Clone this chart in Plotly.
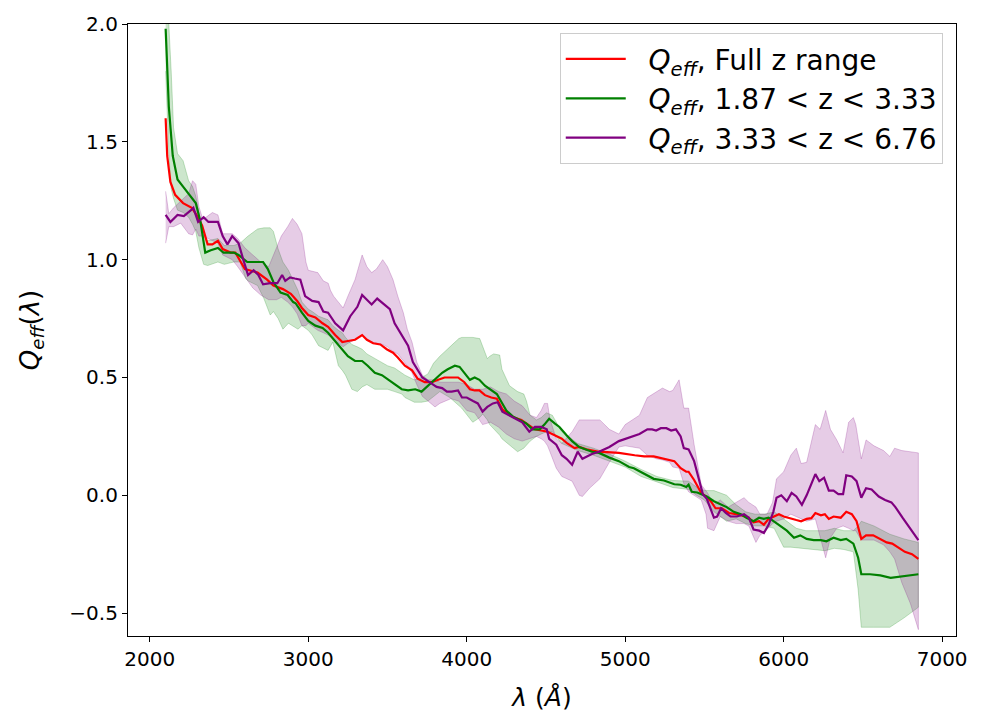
import plotly.graph_objects as go

# ---- Q_eff(lambda), full redshift range ----
wl_full = [2100, 2110, 2130, 2160, 2210, 2265, 2295, 2330, 2365, 2395, 2430, 2460, 2510, 2540,
           2600, 2650, 2680, 2740, 2780, 2840, 2890, 2930, 2960, 3000, 3045, 3090, 3125, 3170,
           3215, 3250, 3295, 3340, 3370, 3410, 3455, 3495, 3535, 3565, 3610, 3655, 3690, 3735,
           3780, 3820, 3860, 3900, 3945, 3985, 4020, 4050, 4080, 4115, 4155, 4190, 4225, 4260,
           4300, 4345, 4385, 4430, 4470, 4510, 4555, 4600, 4635, 4680, 4710, 4755, 4835, 4960,
           5060, 5120, 5180, 5245, 5310, 5350, 5385, 5400, 5435, 5480, 5510, 5540, 5570, 5610,
           5655, 5700, 5735, 5780, 5810, 5845, 5875, 5905, 5935, 5970, 6000, 6045, 6080, 6110,
           6145, 6175, 6200, 6235, 6260, 6285, 6315, 6360, 6395, 6430, 6460, 6490, 6520, 6565,
           6610, 6650, 6685, 6730, 6765, 6810, 6850]
q_full = [1.60, 1.44, 1.33, 1.275, 1.24, 1.22, 1.19, 1.145, 1.065, 1.065, 1.08, 1.045, 1.03, 1.03,
          0.96, 0.95, 0.945, 0.915, 0.89, 0.875, 0.855, 0.825, 0.795, 0.765, 0.755, 0.73, 0.715, 0.68,
          0.65, 0.655, 0.66, 0.68, 0.66, 0.645, 0.64, 0.62, 0.605, 0.585, 0.55, 0.53, 0.495, 0.48,
          0.48, 0.49, 0.50, 0.50, 0.50, 0.48, 0.45, 0.445, 0.445, 0.425, 0.415, 0.41, 0.365, 0.345,
          0.33, 0.32, 0.30, 0.28, 0.275, 0.27, 0.255, 0.24, 0.22, 0.20, 0.205, 0.195, 0.185, 0.18,
          0.17, 0.165, 0.165, 0.155, 0.145, 0.115, 0.10, 0.10, 0.065, 0.01, -0.005, -0.025, -0.055, -0.055,
          -0.075, -0.08, -0.085, -0.095, -0.115, -0.11, -0.125, -0.10, -0.09, -0.08, -0.09, -0.10, -0.105, -0.11,
          -0.10, -0.097, -0.075, -0.085, -0.08, -0.10, -0.09, -0.095, -0.07, -0.08, -0.11, -0.185, -0.17, -0.17,
          -0.185, -0.20, -0.205, -0.225, -0.24, -0.25, -0.27]

# ---- Q_eff(lambda), 1.87 < z < 3.33 ----
wl_low = [2100, 2120, 2145, 2175, 2210, 2245, 2290, 2320, 2350, 2385, 2430, 2465, 2530, 2560,
          2615, 2655, 2715, 2745, 2780, 2825, 2870, 2905, 2920, 2960, 3000, 3045, 3090, 3125,
          3170, 3215, 3250, 3295, 3340, 3375, 3420, 3465, 3505, 3545, 3590, 3630, 3675, 3715,
          3755, 3800, 3845, 3880, 3925, 3955, 3990, 4020, 4050, 4080, 4115, 4155, 4190, 4220,
          4250, 4290, 4335, 4375, 4415, 4460, 4490, 4520, 4555, 4585, 4630, 4665, 4710, 4755,
          4790, 4835, 4900, 4960, 5025, 5055, 5120, 5180, 5245, 5310, 5350, 5385, 5400, 5420,
          5455, 5485, 5515, 5560, 5605, 5640, 5685, 5730, 5765, 5810, 5845, 5875, 5905, 5935,
          5980, 6020, 6065, 6105, 6145, 6190, 6235, 6270, 6315, 6360, 6395, 6440, 6470, 6490,
          6545, 6610, 6675, 6730, 6795, 6850]
q_low = [1.98, 1.65, 1.44, 1.34, 1.31, 1.28, 1.24, 1.16, 1.03, 1.04, 1.05, 1.03, 1.03, 1.02,
         0.99, 0.99, 0.99, 0.96, 0.905, 0.86, 0.85, 0.82, 0.815, 0.775, 0.74, 0.72, 0.71, 0.69,
         0.655, 0.62, 0.59, 0.57, 0.57, 0.55, 0.52, 0.51, 0.49, 0.47, 0.45, 0.445, 0.45, 0.44,
         0.465, 0.49, 0.52, 0.535, 0.55, 0.545, 0.515, 0.49, 0.50, 0.49, 0.465, 0.445, 0.43, 0.395,
         0.36, 0.335, 0.32, 0.305, 0.28, 0.28, 0.30, 0.325, 0.305, 0.29, 0.255, 0.23, 0.205, 0.195,
         0.185, 0.18, 0.16, 0.145, 0.12, 0.115, 0.09, 0.07, 0.063, 0.047, 0.045, 0.035, 0.045, 0.015,
         0.012, 0.003, -0.005, -0.025, -0.04, -0.05, -0.07, -0.08, -0.095, -0.11, -0.095, -0.10, -0.095, -0.11,
         -0.13, -0.15, -0.18, -0.17, -0.185, -0.19, -0.19, -0.195, -0.18, -0.19, -0.185, -0.205, -0.265, -0.335,
         -0.335, -0.34, -0.35, -0.345, -0.34, -0.335]

# ---- Q_eff(lambda), 3.33 < z < 6.76 ----
wl_high = [2100, 2130, 2175, 2215, 2260, 2275, 2305, 2340, 2370, 2430, 2460, 2490, 2520, 2560,
           2590, 2620, 2655, 2685, 2715, 2760, 2805, 2835, 2855, 2885, 2915, 2950, 2980, 3025,
           3065, 3095, 3125, 3170, 3220, 3265, 3310, 3340, 3370, 3400, 3435, 3470, 3515, 3545,
           3590, 3630, 3660, 3690, 3720, 3765, 3810, 3845, 3875, 3905, 3945, 3970, 4000, 4040,
           4070, 4100, 4130, 4165, 4195, 4225, 4270, 4315, 4350, 4395, 4430, 4470, 4505, 4520,
           4565, 4600, 4630, 4665, 4700, 4730, 4760, 4790, 4835, 4900, 4960, 5025, 5090, 5140,
           5170, 5195, 5225, 5260, 5290, 5320, 5350, 5370, 5400, 5435, 5465, 5490, 5515, 5540,
           5560, 5580, 5605, 5635, 5665, 5705, 5750, 5780, 5810, 5845, 5875, 5905, 5935, 5955,
           5985, 6020, 6050, 6080, 6115, 6145, 6175, 6200, 6225, 6255, 6285, 6315, 6345, 6375,
           6395, 6430, 6460, 6490, 6520, 6555, 6600, 6640, 6680, 6705, 6750, 6795, 6850]
q_high = [1.19, 1.16, 1.19, 1.185, 1.21, 1.22, 1.16, 1.18, 1.16, 1.16, 1.10, 1.065, 1.10, 1.07,
          1.00, 0.935, 0.955, 0.935, 0.895, 0.90, 0.90, 0.935, 0.91, 0.925, 0.92, 0.915, 0.845, 0.825,
          0.82, 0.78, 0.775, 0.73, 0.70, 0.76, 0.80, 0.85, 0.83, 0.81, 0.835, 0.815, 0.79, 0.73,
          0.68, 0.635, 0.565, 0.535, 0.50, 0.48, 0.46, 0.455, 0.44, 0.44, 0.445, 0.415, 0.415, 0.40,
          0.39, 0.355, 0.375, 0.39, 0.395, 0.355, 0.34, 0.325, 0.31, 0.27, 0.29, 0.29, 0.28, 0.24,
          0.215, 0.17, 0.155, 0.13, 0.185, 0.155, 0.165, 0.175, 0.185, 0.205, 0.23, 0.245, 0.26, 0.28,
          0.28, 0.275, 0.285, 0.285, 0.275, 0.28, 0.25, 0.20, 0.195, 0.145, 0.07, 0.005, -0.015, -0.055,
          -0.095, -0.09, -0.055, -0.075, -0.09, -0.09, -0.08, -0.095, -0.145, -0.15, -0.16, -0.125, -0.07, -0.01,
          0.0, -0.025, 0.01, -0.005, -0.04, 0.0, 0.045, 0.09, 0.06, 0.075, 0.02, 0.02, 0.005, 0.005,
          0.085, 0.08, 0.06, -0.01, 0.03, 0.025, -0.005, -0.02, -0.03, -0.05, -0.095, -0.14, -0.19]

# ---- uncertainty band, 1.87 < z < 3.33 ----
band_low_wl = [2100, 2120, 2135, 2150, 2175, 2210, 2245, 2270, 2290, 2310, 2340, 2365, 2430, 2470,
               2530, 2570, 2605, 2620, 2680, 2720, 2760, 2780, 2810, 2840, 2875, 2935, 2960, 3000,
               3025, 3065, 3125, 3155, 3190, 3215, 3235, 3275, 3310, 3340, 3370, 3420, 3500, 3545,
               3590, 3610, 3670, 3715, 3755, 3790, 3830, 3893, 3950, 3968, 4038, 4082, 4101, 4130,
               4145, 4170, 4208, 4222, 4270, 4321, 4360, 4377, 4400, 4440, 4470, 4503, 4540, 4600,
               4700, 4800, 4900, 5000, 5100, 5200, 5300, 5400, 5450, 5500, 5560, 5640, 5700, 5760,
               5820, 5880, 5940, 6000, 6045, 6080, 6140, 6200, 6260, 6320, 6380, 6440, 6470, 6490,
               6570, 6670, 6760, 6850]
band_low_hi = [2.15, 2.0, 1.80, 1.56, 1.45, 1.42, 1.335, 1.31, 1.27, 1.20, 1.10, 1.08, 1.09, 1.06,
               1.06, 1.07, 1.09, 1.10, 1.13, 1.135, 1.135, 1.12, 1.045, 0.99, 0.955, 0.87, 0.82, 0.79,
               0.78, 0.76, 0.745, 0.72, 0.70, 0.69, 0.67, 0.64, 0.63, 0.62, 0.60, 0.58, 0.55, 0.54,
               0.52, 0.51, 0.49, 0.50, 0.515, 0.56, 0.59, 0.63, 0.665, 0.67, 0.67, 0.665, 0.63, 0.58,
               0.59, 0.60, 0.595, 0.535, 0.465, 0.44, 0.43, 0.40, 0.34, 0.32, 0.33, 0.35, 0.34, 0.27,
               0.22, 0.20, 0.175, 0.145, 0.11, 0.08, 0.063, 0.06, 0.035, 0.02, 0.02, 0.0, -0.04, -0.07,
               -0.08, -0.08, -0.07, -0.10, -0.12, -0.14, -0.15, -0.15, -0.15, -0.14, -0.15, -0.15, -0.13, -0.11,
               -0.13, -0.165, -0.185, -0.20]
band_low_lo = [1.80, 1.45, 1.30, 1.26, 1.21, 1.20, 1.18, 1.15, 1.12, 1.05, 0.98, 0.975, 0.99, 0.98,
               0.99, 0.99, 0.92, 0.91, 0.89, 0.835, 0.765, 0.78, 0.75, 0.705, 0.73, 0.705, 0.72, 0.70,
               0.68, 0.635, 0.615, 0.65, 0.55, 0.53, 0.51, 0.45, 0.44, 0.46, 0.47, 0.45, 0.45, 0.44,
               0.43, 0.415, 0.395, 0.395, 0.40, 0.42, 0.44, 0.415, 0.38, 0.37, 0.31, 0.33, 0.345, 0.32,
               0.30, 0.28, 0.255, 0.24, 0.215, 0.185, 0.20, 0.215, 0.23, 0.25, 0.26, 0.27, 0.27, 0.22,
               0.19, 0.17, 0.145, 0.12, 0.08, 0.057, 0.033, 0.025, 0.0, -0.02, -0.07, -0.11, -0.10, -0.12,
               -0.13, -0.13, -0.14, -0.22, -0.22, -0.22, -0.225, -0.23, -0.235, -0.225, -0.23, -0.24, -0.40, -0.56,
               -0.56, -0.56, -0.52, -0.475]

# ---- uncertainty band, 3.33 < z < 6.76 ----
band_high_wl = [2100, 2120, 2150, 2195, 2245, 2270, 2290, 2310, 2335, 2395, 2430, 2460, 2520, 2555,
                2600, 2650, 2700, 2750, 2800, 2830, 2870, 2900, 2930, 2960, 2985, 3000, 3060, 3095,
                3126, 3140, 3160, 3220, 3250, 3295, 3340, 3370, 3400, 3430, 3470, 3500, 3535, 3565,
                3600, 3625, 3655, 3685, 3720, 3755, 3800, 3830, 3900, 3950, 4000, 4050, 4100, 4150,
                4200, 4250, 4300, 4350, 4400, 4440, 4470, 4490, 4510, 4525, 4565, 4600, 4665, 4710,
                4730, 4775, 4840, 4900, 4960, 5000, 5090, 5140, 5195, 5235, 5280, 5300, 5340, 5370,
                5400, 5435, 5480, 5510, 5520, 5560, 5600, 5650, 5700, 5750, 5780, 5825, 5850, 5895,
                5930, 5955, 6000, 6045, 6080, 6110, 6145, 6200, 6230, 6265, 6295, 6335, 6375, 6410,
                6440, 6455, 6490, 6520, 6570, 6630, 6670, 6700, 6745, 6800, 6850]
band_high_hi = [1.29, 1.195, 1.22, 1.25, 1.28, 1.335, 1.32, 1.225, 1.17, 1.20, 1.19, 1.11, 1.11, 1.09,
                1.05, 1.02, 0.99, 0.97, 1.05, 1.10, 1.14, 1.175, 1.15, 1.11, 0.99, 0.955, 0.945, 0.91,
                0.90, 0.87, 0.845, 0.795, 0.845, 0.915, 1.02, 0.97, 0.945, 0.96, 1.0, 0.97, 0.915, 0.845,
                0.775, 0.705, 0.65, 0.565, 0.51, 0.49, 0.49, 0.48, 0.48, 0.48, 0.47, 0.45, 0.45, 0.46,
                0.44, 0.43, 0.40, 0.38, 0.34, 0.33, 0.36, 0.39, 0.39, 0.325, 0.24, 0.22, 0.27, 0.32,
                0.32, 0.32, 0.32, 0.28, 0.26, 0.30, 0.34, 0.415, 0.44, 0.455, 0.44, 0.445, 0.49, 0.37,
                0.37, 0.215, 0.045, 0.02, 0.01, -0.04, -0.02, -0.05, -0.03, -0.01, -0.03, -0.05, -0.08, -0.08,
                -0.03, 0.07, 0.10, 0.17, 0.20, 0.135, 0.14, 0.30, 0.28, 0.36, 0.28, 0.235, 0.18, 0.31,
                0.33, 0.30, 0.155, 0.235, 0.21, 0.19, 0.165, 0.20, 0.19, 0.185, 0.18]
band_high_lo = [1.07, 1.14, 1.14, 1.155, 1.11, 1.105, 1.13, 1.10, 1.10, 1.08, 1.07, 1.02, 1.00, 0.97,
                0.93, 0.88, 0.85, 0.83, 0.83, 0.84, 0.82, 0.80, 0.77, 0.72, 0.72, 0.73, 0.70, 0.69,
                0.68, 0.67, 0.66, 0.63, 0.645, 0.66, 0.68, 0.66, 0.65, 0.645, 0.64, 0.63, 0.61, 0.60,
                0.57, 0.55, 0.52, 0.47, 0.42, 0.40, 0.375, 0.39, 0.41, 0.40, 0.36, 0.35, 0.30, 0.31,
                0.29, 0.26, 0.24, 0.23, 0.24, 0.25, 0.24, 0.23, 0.21, 0.185, 0.115, 0.08, 0.06, 0.0,
                -0.005, 0.03, 0.07, 0.14, 0.205, 0.21, 0.20, 0.17, 0.155, 0.15, 0.14, 0.12, 0.115, 0.05,
                0.015, 0.0, -0.02, -0.08, -0.14, -0.15, -0.09, -0.11, -0.12, -0.12, -0.13, -0.20, -0.17, -0.145,
                -0.12, -0.11, -0.10, -0.08, -0.09, -0.10, -0.11, -0.10, -0.18, -0.265, -0.18, -0.14, -0.13, -0.14,
                -0.15, -0.15, -0.19, -0.19, -0.19, -0.21, -0.24, -0.27, -0.37, -0.46, -0.57]

legend_labels = ["<i>Q<sub>eff</sub></i>, Full z range",
                 "<i>Q<sub>eff</sub></i>, 1.87 &lt; z &lt; 3.33",
                 "<i>Q<sub>eff</sub></i>, 3.33 &lt; z &lt; 6.76"]
x_ticks = [2000, 3000, 4000, 5000, 6000, 7000]
y_ticks = [-0.5, 0.0, 0.5, 1.0, 1.5, 2.0]

FONT = "DejaVu Sans"
fig = go.Figure()


def add_band(wl, lo, hi, rgb):
    fig.add_trace(go.Scatter(
        x=list(wl) + list(wl)[::-1],
        y=list(hi) + list(lo)[::-1],
        fill="toself",
        fillcolor=f"rgba({rgb},0.2)",
        line=dict(color=f"rgba({rgb},0.22)", width=1),
        mode="lines",
        showlegend=False,
        hoverinfo="skip",
    ))


add_band(band_low_wl, band_low_lo, band_low_hi, "0,128,0")
add_band(band_high_wl, band_high_lo, band_high_hi, "128,0,128")

# small non-breaking gap between the legend line sample and its label
GAP = "\u00a0\u00a0"
for i, (wl, q, col) in enumerate([(wl_full, q_full, "#ff0000"),
                                  (wl_low, q_low, "#008000"),
                                  (wl_high, q_high, "#800080")]):
    fig.add_trace(go.Scatter(
        x=wl, y=q, mode="lines", name=GAP + legend_labels[i],
        line=dict(color=col, width=2.2),
        legendgroup=f"g{i}",
    ))

axis_common = dict(
    showline=True, linecolor="black", linewidth=1.2, mirror=True,
    ticks="outside", ticklen=5, tickwidth=1.2, tickcolor="black",
    showgrid=False, zeroline=False,
    tickfont=dict(family=FONT, size=20, color="black"),
)

fig.update_xaxes(range=[1862.5, 7087.5], tickvals=x_ticks,
                 ticktext=[str(v) for v in x_ticks],
                 title=dict(text="<i>λ</i> (<i>Å</i>)", font=dict(family=FONT, size=25, color="black"),
                            standoff=18),
                 **axis_common)
fig.update_yaxes(range=[-0.597, 2.0], tickvals=y_ticks,
                 ticktext=[f"{v:.1f}".replace("-", "−") for v in y_ticks],
                 title=dict(text="<i>Q<sub>eff</sub></i>(<i>λ</i>)",
                            font=dict(family=FONT, size=26, color="black"), standoff=22),
                 **axis_common)

fig.update_layout(
    width=983, height=719,
    margin=dict(l=128, r=27, t=19, b=83),
    plot_bgcolor="white", paper_bgcolor="white",
    font=dict(family=FONT, color="black"),
    legend=dict(
        x=0.984, y=0.985, xanchor="right", yanchor="top",
        bgcolor="rgba(255,255,255,0.8)", bordercolor="#cccccc", borderwidth=1,
        font=dict(family=FONT, size=28, color="black"),
        itemwidth=60, tracegroupgap=0,
    ),
)

fig.write_html("out.html")
